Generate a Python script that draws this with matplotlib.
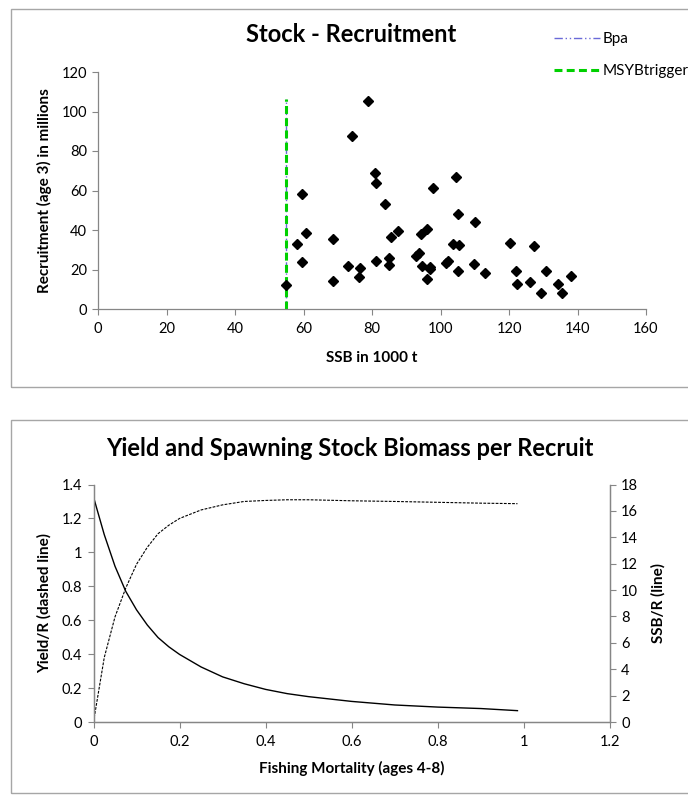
import matplotlib
matplotlib.use("Agg")
import matplotlib.pyplot as plt
from matplotlib.patches import Rectangle

# ---- stock-recruitment data (SSB in 1000 t, recruits age 3 in millions) ----
ssb = [55.0, 58.1, 59.6, 59.6, 60.8, 68.6, 68.6, 73.1, 74.2, 76.3, 76.5, 78.7,
       80.8, 81.2, 81.2, 83.7, 85.1, 85.0, 85.6, 87.6, 92.9, 93.6, 94.2, 94.5,
       96.1, 96.1, 96.8, 97.0, 97.9, 101.6, 102.1, 103.7, 104.6, 105.1, 105.3,
       105.1, 109.8, 110.2, 113.0, 120.4, 122.1, 122.2, 126.2, 127.4, 129.2,
       130.9, 134.3, 135.6, 138.1]
recruits = [12.3, 32.8, 58.3, 23.7, 38.7, 35.3, 14.3, 22.0, 87.7, 16.3, 20.8,
            105.5, 68.9, 63.7, 24.5, 53.4, 25.7, 22.4, 36.5, 39.5, 26.9, 28.2,
            37.8, 22.0, 40.3, 15.3, 20.5, 21.5, 61.5, 23.4, 24.5, 32.9, 66.6,
            48.1, 32.6, 19.0, 23.0, 44.2, 18.2, 33.6, 19.0, 12.6, 13.8, 31.9,
            8.2, 19.3, 12.8, 7.9, 16.8]
bpa_x = [55.0, 55.0]
bpa_y = [0.0, 106.5]
msy_x = [55.0, 55.0]
msy_y = [0.0, 106.5]

# ---- per-recruit curves ----
fbar = [0, 0.025, 0.05, 0.075, 0.1, 0.125, 0.15, 0.175, 0.2, 0.25, 0.3, 0.35,
        0.4, 0.45, 0.5, 0.6, 0.7, 0.8, 0.9, 0.985]
yield_r = [0, 0.38, 0.62, 0.79, 0.93, 1.03, 1.11, 1.16, 1.20, 1.25, 1.28, 1.30,
           1.306, 1.31, 1.31, 1.304, 1.30, 1.295, 1.29, 1.287]
ssb_r = [17.05, 14.2, 11.8, 9.9, 8.5, 7.35, 6.4, 5.7, 5.12, 4.17, 3.42, 2.9,
         2.47, 2.15, 1.92, 1.56, 1.29, 1.13, 1.02, 0.86]

W, H = 688, 798
AX = "#868686"; FRAME = "#a6a6a6"; GREEN = "#00d000"; PURPLE = "#6a6ad8"
LBL = 11; TTL = 17
plt.rcParams.update({"font.family": ["Lato", "DejaVu Sans"], "font.size": 10.5,
                     "axes.edgecolor": AX, "axes.linewidth": 0.9,
                     "xtick.color": AX, "ytick.color": AX,
                     "xtick.labelcolor": "black", "ytick.labelcolor": "black",
                     "xtick.major.size": 4, "ytick.major.size": 4,
                     "xtick.major.pad": 5, "ytick.major.pad": 4})


def px_axes(fig, left, top, right, bottom):
    return fig.add_axes([left / W, 1 - bottom / H, (right - left) / W, (bottom - top) / H])


fig = plt.figure(figsize=(W / 100, H / 100), dpi=100)
for y0, y1 in [(9.5, 387), (420, 793)]:
    fig.patches.append(Rectangle((11 / W, 1 - y1 / H), 700 / W, (y1 - y0) / H,
                                 transform=fig.transFigure, fill=False,
                                 edgecolor=FRAME, lw=1.0))

# ---- top: stock - recruitment ----
ax = px_axes(fig, 98, 72, 646, 309)
ax.plot(ssb, recruits, ls="none", marker="D", ms=4.6, color="black", zorder=3)
l_bpa, = ax.plot(bpa_x, bpa_y, color=PURPLE, lw=1.0, ls=(0, (6, 2, 1, 2, 1, 2)), label="Bpa")
l_msy, = ax.plot(msy_x, msy_y, color=GREEN, lw=2.2, ls=(0, (2.6, 1.4)), label="MSYBtrigger")
ax.set_xlim(0, 160); ax.set_ylim(0, 120)
ax.set_xticks(range(0, 161, 20)); ax.set_yticks(range(0, 121, 20))
for s in ("top", "right"):
    ax.spines[s].set_visible(False)
ax.set_xlabel("SSB in 1000 t", fontweight="bold", fontsize=LBL, labelpad=11)
ax.set_ylabel("Recruitment (age 3) in millions", fontweight="bold", fontsize=LBL, labelpad=7)
fig.text(351 / W, 1 - 35 / H, "Stock - Recruitment", ha="center", va="center",
         fontsize=TTL, fontweight="bold")
fig.legend(handles=[l_bpa, l_msy], loc="upper left", bbox_to_anchor=(548 / W, 1 - 26 / H),
           frameon=False, fontsize=11, handlelength=3.0, handletextpad=0.15,
           labelspacing=1.2, borderaxespad=0)

# ---- bottom: yield and SSB per recruit ----
ax1 = px_axes(fig, 93.5, 484.5, 610, 722)
ax1.plot(fbar, yield_r, color="black", lw=0.8, ls=(0, (2.5, 1.2)))
ax1.set_xlim(0, 1.2); ax1.set_ylim(0, 1.4)
ax1.set_xticks([0, 0.2, 0.4, 0.6, 0.8, 1, 1.2])
ax1.set_xticklabels(["0", "0.2", "0.4", "0.6", "0.8", "1", "1.2"])
ax1.set_yticks([0, 0.2, 0.4, 0.6, 0.8, 1, 1.2, 1.4])
ax1.set_yticklabels(["0", "0.2", "0.4", "0.6", "0.8", "1", "1.2", "1.4"])
ax1.spines["top"].set_visible(False)
ax1.set_xlabel("Fishing Mortality (ages 4-8)", fontweight="bold", fontsize=LBL, labelpad=9)
ax1.set_ylabel("Yield/R (dashed line)", fontweight="bold", fontsize=LBL, labelpad=7)

ax2 = ax1.twinx()
ax2.plot(fbar, ssb_r, color="black", lw=1.0)
ax2.set_ylim(0, 18); ax2.set_yticks(range(0, 19, 2))
ax2.spines["top"].set_visible(False)
ax2.set_ylabel("SSB/R (line)", fontweight="bold", fontsize=LBL, labelpad=9)
fig.text(350 / W, 1 - 448 / H, "Yield and Spawning Stock Biomass per Recruit",
         ha="center", va="center", fontsize=TTL, fontweight="bold")

fig.savefig("out.png", dpi=100)
